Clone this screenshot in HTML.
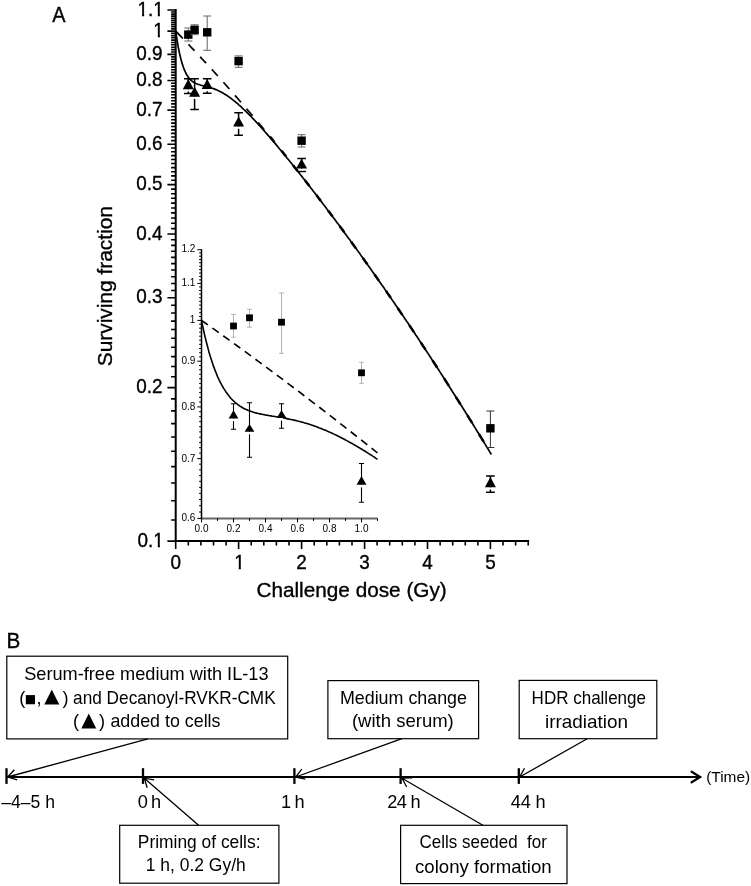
<!DOCTYPE html>
<html><head><meta charset="utf-8"><title>Figure</title>
<style>
html,body{margin:0;padding:0;background:#fff;}
svg{display:block;font-family:"Liberation Sans",sans-serif;fill:#000;filter:grayscale(1);}
text{white-space:pre}
.ax{stroke:#000;stroke-width:2;fill:none;stroke-linecap:butt}
.tk{stroke:#000;stroke-width:1.6;fill:none}
.cv{stroke:#000;stroke-width:1.7;fill:none;stroke-linejoin:round}
.ds{stroke:#000;stroke-width:1.7;fill:none}
.eg{stroke:#666;stroke-width:1;fill:none}
.eb{stroke:#000;stroke-width:1.5;fill:none}
.iax{stroke:#555;stroke-width:1;fill:none}
.bx{stroke:#000;stroke-width:1.2;fill:#fff}
.ar{stroke:#000;stroke-width:1.3;fill:none}
.tl{stroke:#000;stroke-width:2;fill:none}
.b{font-size:18.2px}
.m{stroke:#000;stroke-width:.35px}
</style></head><body>
<svg width="751" height="886" viewBox="0 0 751 886">
<rect width="751" height="886" fill="#fff"/>

<text class="m" transform="translate(52.3,22) scale(.93,1)" font-size="21.4">A</text>
<text class="m" transform="translate(6.5,647.7) scale(.92,1)" font-size="22.5">B</text>
<path class="ax" d="M175.7,9.0 V541.1 H529.2"/>
<path class="tk" d="M167.4,541.1 H175.7 M171.1,520.0 H175.7 M171.1,500.7 H175.7 M171.1,483.0 H175.7 M171.1,466.6 H175.7 M171.1,451.3 H175.7 M171.1,437.0 H175.7 M171.1,423.6 H175.7 M171.1,410.9 H175.7 M171.1,398.9 H175.7 M167.4,387.6 H175.7 M171.1,376.8 H175.7 M171.1,366.5 H175.7 M171.1,356.6 H175.7 M171.1,347.2 H175.7 M171.1,338.2 H175.7 M171.1,329.5 H175.7 M171.1,321.1 H175.7 M171.1,313.0 H175.7 M171.1,305.3 H175.7 M167.4,297.8 H175.7 M171.1,290.5 H175.7 M171.1,283.5 H175.7 M171.1,276.7 H175.7 M171.1,270.0 H175.7 M171.1,263.6 H175.7 M171.1,257.4 H175.7 M171.1,251.3 H175.7 M171.1,245.4 H175.7 M171.1,239.7 H175.7 M167.4,234.0 H175.7 M171.1,228.6 H175.7 M171.1,223.2 H175.7 M171.1,218.0 H175.7 M171.1,212.9 H175.7 M171.1,208.0 H175.7 M171.1,203.1 H175.7 M171.1,198.3 H175.7 M171.1,193.7 H175.7 M171.1,189.1 H175.7 M167.4,184.6 H175.7 M171.1,180.2 H175.7 M171.1,175.9 H175.7 M171.1,171.7 H175.7 M171.1,167.6 H175.7 M171.1,163.5 H175.7 M171.1,159.5 H175.7 M171.1,155.6 H175.7 M171.1,151.8 H175.7 M171.1,148.0 H175.7 M167.4,144.2 H175.7 M171.1,140.6 H175.7 M171.1,137.0 H175.7 M171.1,133.4 H175.7 M171.1,129.9 H175.7 M171.1,126.5 H175.7 M171.1,123.1 H175.7 M171.1,119.8 H175.7 M171.1,116.5 H175.7 M171.1,113.3 H175.7 M167.4,110.1 H175.7 M171.1,107.0 H175.7 M171.1,103.9 H175.7 M171.1,100.8 H175.7 M171.1,97.8 H175.7 M171.1,94.8 H175.7 M171.1,91.9 H175.7 M171.1,89.0 H175.7 M171.1,86.1 H175.7 M171.1,83.3 H175.7 M167.4,80.5 H175.7 M171.1,77.8 H175.7 M171.1,75.1 H175.7 M171.1,72.4 H175.7 M171.1,69.7 H175.7 M171.1,67.1 H175.7 M171.1,64.5 H175.7 M171.1,61.9 H175.7 M171.1,59.4 H175.7 M171.1,56.9 H175.7 M167.4,54.4 H175.7 M171.1,52.0 H175.7 M171.1,49.6 H175.7 M171.1,47.2 H175.7 M171.1,44.8 H175.7 M171.1,42.5 H175.7 M171.1,40.1 H175.7 M171.1,37.8 H175.7 M171.1,35.6 H175.7 M171.1,33.3 H175.7 M167.4,31.1 H175.7 M171.1,28.9 H175.7 M171.1,26.7 H175.7 M171.1,24.6 H175.7 M171.1,22.4 H175.7 M171.1,20.3 H175.7 M171.1,18.2 H175.7 M171.1,16.1 H175.7 M171.1,14.1 H175.7 M171.1,12.0 H175.7 M167.4,10.0 H175.7"/>
<path class="tk" d="M175.7,541.1 V549.1 M188.3,541.1 V545.6 M200.9,541.1 V545.6 M213.5,541.1 V545.6 M226.1,541.1 V545.6 M238.6,541.1 V549.1 M251.2,541.1 V545.6 M263.8,541.1 V545.6 M276.4,541.1 V545.6 M289.0,541.1 V545.6 M301.6,541.1 V549.1 M314.2,541.1 V545.6 M326.8,541.1 V545.6 M339.4,541.1 V545.6 M352.0,541.1 V545.6 M364.6,541.1 V549.1 M377.1,541.1 V545.6 M389.7,541.1 V545.6 M402.3,541.1 V545.6 M414.9,541.1 V545.6 M427.5,541.1 V549.1 M440.1,541.1 V545.6 M452.7,541.1 V545.6 M465.3,541.1 V545.6 M477.9,541.1 V545.6 M490.4,541.1 V549.1 M503.0,541.1 V545.6 M515.6,541.1 V545.6 M528.2,541.1 V545.6"/>
<text class="m" transform="translate(163.8,15.6) scale(.955,1)" font-size="19.8" text-anchor="end">1.1</text>
<text class="m" transform="translate(163.8,36.7) scale(.955,1)" font-size="19.8" text-anchor="end">1</text>
<text class="m" transform="translate(162.6,60.0) scale(.955,1)" font-size="19.8" text-anchor="end">0.9</text>
<text class="m" transform="translate(162.6,86.1) scale(.955,1)" font-size="19.8" text-anchor="end">0.8</text>
<text class="m" transform="translate(162.6,115.7) scale(.955,1)" font-size="19.8" text-anchor="end">0.7</text>
<text class="m" transform="translate(162.6,149.8) scale(.955,1)" font-size="19.8" text-anchor="end">0.6</text>
<text class="m" transform="translate(162.6,190.2) scale(.955,1)" font-size="19.8" text-anchor="end">0.5</text>
<text class="m" transform="translate(162.6,239.6) scale(.955,1)" font-size="19.8" text-anchor="end">0.4</text>
<text class="m" transform="translate(162.6,303.4) scale(.955,1)" font-size="19.8" text-anchor="end">0.3</text>
<text class="m" transform="translate(162.6,393.2) scale(.955,1)" font-size="19.8" text-anchor="end">0.2</text>
<text class="m" transform="translate(163.8,546.7) scale(.955,1)" font-size="19.8" text-anchor="end">0.1</text>
<text class="m" transform="translate(175.7,568.9) scale(.955,1)" font-size="19.8" text-anchor="middle">0</text>
<text class="m" transform="translate(239.4,568.9) scale(.955,1)" font-size="19.8" text-anchor="middle">1</text>
<text class="m" transform="translate(301.6,568.9) scale(.955,1)" font-size="19.8" text-anchor="middle">2</text>
<text class="m" transform="translate(364.6,568.9) scale(.955,1)" font-size="19.8" text-anchor="middle">3</text>
<text class="m" transform="translate(427.5,568.9) scale(.955,1)" font-size="19.8" text-anchor="middle">4</text>
<text class="m" transform="translate(490.4,568.9) scale(.955,1)" font-size="19.8" text-anchor="middle">5</text>
<rect x="153.42" y="13.61" width="4.38" height="3.48" fill="#fff"/>
<rect x="159.94" y="13.61" width="4.24" height="3.48" fill="#fff"/>
<rect x="137.65" y="13.61" width="4.38" height="3.48" fill="#fff"/>
<rect x="144.17" y="13.61" width="4.24" height="3.48" fill="#fff"/>
<rect x="153.42" y="34.72" width="4.38" height="3.48" fill="#fff"/>
<rect x="159.94" y="34.72" width="4.24" height="3.48" fill="#fff"/>
<rect x="153.42" y="544.72" width="4.38" height="3.48" fill="#fff"/>
<rect x="159.94" y="544.72" width="4.24" height="3.48" fill="#fff"/>
<rect x="234.33" y="566.92" width="4.38" height="3.48" fill="#fff"/>
<rect x="240.85" y="566.92" width="4.24" height="3.48" fill="#fff"/>
<text class="m" x="256.4" y="597.1" font-size="20.8" textLength="190.4" lengthAdjust="spacingAndGlyphs">Challenge dose (Gy)</text>
<text class="m" transform="translate(112.4,366.3) rotate(-90)" font-size="20.6" textLength="160.2" lengthAdjust="spacingAndGlyphs">Surviving fraction</text>
<path class="ds" d="M175.7,31.1 L177.5,32.9 L179.3,34.8 L181.1,36.7 L182.9,38.5 M188.5,44.4 L190.0,46.0 L191.5,47.6 L193.0,49.1 L194.5,50.7 M200.1,56.7 L201.6,58.4 L203.1,60.0 L204.6,61.6 L206.1,63.2 M211.8,69.4 L213.3,71.0 L214.8,72.7 L216.3,74.3 L217.8,76.0 M223.4,82.2 L224.9,83.9 L226.4,85.6 L227.9,87.3 L229.4,89.0 M235.0,95.4 L236.5,97.1 L238.0,98.8 L239.5,100.6 L241.0,102.3 M246.6,108.8 L248.1,110.6 L249.6,112.3 L251.1,114.1 L252.6,115.8 M258.2,122.5 L259.7,124.3 L261.2,126.1 L262.7,127.9 L264.2,129.7"/>
<path class="ds" style="stroke-width:2.5" d="M269.9,136.5 L271.0,137.9 L272.2,139.3 L273.3,140.7 L274.5,142.1 M281.5,150.7 L282.6,152.1 L283.8,153.6 L284.9,155.0 L286.1,156.4 M293.1,165.2 L294.2,166.7 L295.4,168.1 L296.5,169.6 L297.7,171.0 M304.7,180.0 L305.9,181.5 L307.0,183.0 L308.2,184.4 L309.3,185.9 M316.3,195.0 L317.5,196.5 L318.6,198.1 L319.8,199.6 L320.9,201.1 M328.0,210.4 L329.1,211.9 L330.3,213.4 L331.4,215.0 L332.6,216.5 M339.6,226.0 L340.7,227.5 L341.9,229.1 L343.0,230.6 L344.2,232.2 M351.2,241.8 L352.3,243.4 L353.5,245.0 L354.6,246.6 L355.8,248.2 M362.8,258.0 L364.0,259.6 L365.1,261.2 L366.3,262.8 L367.4,264.4 M374.4,274.4 L375.6,276.0 L376.7,277.6 L377.9,279.3 L379.0,280.9 M386.1,291.0 L387.2,292.7 L388.4,294.4 L389.5,296.0 L390.7,297.7 M397.7,308.0 L398.8,309.7 L400.0,311.4 L401.1,313.1 L402.3,314.8 M409.3,325.2 L410.4,326.9 L411.6,328.6 L412.8,330.4 L413.9,332.1 M420.9,342.7 L422.1,344.4 L423.2,346.2 L424.4,347.9 L425.5,349.7 M432.5,360.4 L433.7,362.2 L434.8,364.0 L436.0,365.8 L437.1,367.5 M444.2,378.5 L445.3,380.3 L446.5,382.1 L447.6,383.9 L448.8,385.7 M455.8,396.8 L456.9,398.6 L458.1,400.4 L459.2,402.3 L460.4,404.1 M467.4,415.3 L468.5,417.2 L469.7,419.1 L470.9,420.9 L472.0,422.8 M479.0,434.2 L480.2,436.1 L481.3,437.9 L482.5,439.8 L483.6,441.7"/>
<path class="cv" d="M175.7,31.1 L177.0,39.6 L178.2,47.0 L179.5,53.2 L180.8,58.6 L182.0,63.1 L183.3,67.0 L184.5,70.2 L185.8,73.0 L187.1,75.3 L188.3,77.2 L189.6,78.8 L190.9,80.1 L192.1,81.2 L193.4,82.1 L194.6,82.8 L195.9,83.5 L197.2,84.0 L198.4,84.4 L199.7,84.8 L201.0,85.2 L202.2,85.5 L203.5,85.8 L204.7,86.1 L206.0,86.4 L207.3,86.7 L208.5,87.0 L209.8,87.4 L211.1,87.8 L212.3,88.2 L213.6,88.6 L214.8,89.1 L216.1,89.6 L217.4,90.2 L218.6,90.7 L219.9,91.4 L221.2,92.0 L222.4,92.7 L223.7,93.5 L224.9,94.2 L226.2,95.0 L227.5,95.9 L228.7,96.7 L230.0,97.6 L231.3,98.6 L232.5,99.6 L233.8,100.6 L235.1,101.6 L236.3,102.6 L237.6,103.7 L238.8,104.8 L240.1,105.9 L241.4,107.1 L242.6,108.3 L243.9,109.5 L245.2,110.7 L246.4,111.9 L247.7,113.2 L248.9,114.4 L250.2,115.7 L251.5,117.0 L252.7,118.3 L254.0,119.7 L255.3,121.0 L256.5,122.4 L257.8,123.7 L259.0,125.1 L260.3,126.5 L261.6,127.9 L262.8,129.3 L264.1,130.7 L265.4,132.2 L266.6,133.6 L267.9,135.1 L269.1,136.5 L270.4,138.0 L271.7,139.5 L272.9,140.9 L274.2,142.4 L275.5,143.9 L276.7,145.4 L278.0,146.9 L279.2,148.5 L280.5,150.0 L281.8,151.5 L283.0,153.0 L284.3,154.6 L285.6,156.1 L286.8,157.7 L288.1,159.2 L289.3,160.8 L290.6,162.3 L291.9,163.9 L293.1,165.5 L294.4,167.1 L295.7,168.6 L296.9,170.2 L298.2,171.8 L299.5,173.4 L300.7,175.0 L302.0,176.6 L303.2,178.2 L304.5,179.8 L305.8,181.4 L307.0,183.1 L308.3,184.7 L309.6,186.3 L310.8,187.9 L312.1,189.6 L313.3,191.2 L314.6,192.8 L315.9,194.5 L317.1,196.1 L318.4,197.8 L319.7,199.4 L320.9,201.1 L322.2,202.7 L323.4,204.4 L324.7,206.1 L326.0,207.8 L327.2,209.4 L328.5,211.1 L329.8,212.8 L331.0,214.5 L332.3,216.2 L333.5,217.8 L334.8,219.5 L336.1,221.2 L337.3,222.9 L338.6,224.6 L339.9,226.3 L341.1,228.1 L342.4,229.8 L343.6,231.5 L344.9,233.2 L346.2,234.9 L347.4,236.7 L348.7,238.4 L350.0,240.1 L351.2,241.9 L352.5,243.6 L353.8,245.3 L355.0,247.1 L356.3,248.8 L357.5,250.6 L358.8,252.3 L360.1,254.1 L361.3,255.9 L362.6,257.6 L363.9,259.4 L365.1,261.2 L366.4,262.9 L367.6,264.7 L368.9,266.5 L370.2,268.3 L371.4,270.1 L372.7,271.9 L374.0,273.7 L375.2,275.5 L376.5,277.3 L377.7,279.1 L379.0,280.9 L380.3,282.7 L381.5,284.5 L382.8,286.3 L384.1,288.1 L385.3,290.0 L386.6,291.8 L387.8,293.6 L389.1,295.5 L390.4,297.3 L391.6,299.1 L392.9,301.0 L394.2,302.8 L395.4,304.7 L396.7,306.5 L397.9,308.4 L399.2,310.2 L400.5,312.1 L401.7,314.0 L403.0,315.8 L404.3,317.7 L405.5,319.6 L406.8,321.4 L408.1,323.3 L409.3,325.2 L410.6,327.1 L411.8,329.0 L413.1,330.9 L414.4,332.8 L415.6,334.7 L416.9,336.6 L418.2,338.5 L419.4,340.4 L420.7,342.3 L421.9,344.2 L423.2,346.2 L424.5,348.1 L425.7,350.0 L427.0,351.9 L428.3,353.9 L429.5,355.8 L430.8,357.7 L432.0,359.7 L433.3,361.6 L434.6,363.6 L435.8,365.5 L437.1,367.5 L438.4,369.4 L439.6,371.4 L440.9,373.4 L442.1,375.3 L443.4,377.3 L444.7,379.3 L445.9,381.2 L447.2,383.2 L448.5,385.2 L449.7,387.2 L451.0,389.2 L452.2,391.2 L453.5,393.2 L454.8,395.2 L456.0,397.2 L457.3,399.2 L458.6,401.2 L459.8,403.2 L461.1,405.2 L462.4,407.2 L463.6,409.3 L464.9,411.3 L466.1,413.3 L467.4,415.3 L468.7,417.4 L469.9,419.4 L471.2,421.5 L472.5,423.5 L473.7,425.5 L475.0,427.6 L476.2,429.7 L477.5,431.7 L478.8,433.8 L480.0,435.8 L481.3,437.9 L482.6,440.0 L483.8,442.0 L485.1,444.1 L486.3,446.2 L487.6,448.3 L488.9,450.4 L490.1,452.5 L491.4,454.5"/>
<path class="eg" d="M188.3,28.0 V41.0 M184.3,28.0 H192.3 M184.3,41.0 H192.3"/>
<rect x="184.1" y="30.4" width="8.4" height="8.4" fill="#000"/>
<path class="eg" d="M194.6,24.8 V34.7 M190.6,24.8 H198.6 M190.6,34.7 H198.6"/>
<rect x="190.4" y="25.6" width="8.4" height="8.4" fill="#000"/>
<path class="eg" d="M207.2,16.0 V50.3 M203.2,16.0 H211.2 M203.2,50.3 H211.2"/>
<rect x="203.0" y="28.1" width="8.4" height="8.4" fill="#000"/>
<path class="eg" d="M238.6,55.9 V67.3 M234.6,55.9 H242.6 M234.6,67.3 H242.6"/>
<rect x="234.4" y="56.9" width="8.4" height="8.4" fill="#000"/>
<path class="eg" d="M301.6,134.7 V147.0 M297.6,134.7 H305.6 M297.6,147.0 H305.6"/>
<rect x="297.4" y="136.5" width="8.4" height="8.4" fill="#000"/>
<path class="eg" style="stroke:#333" d="M490.4,411.0 V447.5 M486.4,411.0 H494.4 M486.4,447.5 H494.4"/>
<rect x="486.2" y="424.1" width="8.4" height="8.4" fill="#000"/>
<path class="eb" d="M188.3,78.8 V93.5 M184.0,78.8 H192.6 M184.0,93.5 H192.6"/>
<rect x="186.3" y="89.3" width="4" height="2.2" fill="#fff"/>
<path d="M188.3,79.1 L193.8,89.3 L182.8,89.3 Z" fill="#000"/>
<path class="eb" d="M194.6,78.8 V109.6 M190.3,78.8 H198.9 M190.3,109.6 H198.9"/>
<rect x="192.6" y="96.7" width="4" height="2.2" fill="#fff"/>
<path d="M194.6,86.7 L200.1,96.7 L189.1,96.7 Z" fill="#000"/>
<path class="eb" d="M207.2,78.8 V93.2 M202.9,78.8 H211.5 M202.9,93.2 H211.5"/>
<rect x="205.2" y="89.1" width="4" height="2.2" fill="#fff"/>
<path d="M207.2,79.1 L212.7,89.1 L201.7,89.1 Z" fill="#000"/>
<path class="eb" d="M238.6,112.7 V135.3 M234.3,112.7 H242.9 M234.3,135.3 H242.9"/>
<rect x="236.6" y="126.6" width="4" height="2.2" fill="#fff"/>
<path d="M238.6,116.5 L244.1,126.6 L233.1,126.6 Z" fill="#000"/>
<path class="eb" d="M301.6,158.5 V171.6 M297.3,158.5 H305.9 M297.3,171.6 H305.9"/>
<rect x="299.6" y="168.5" width="4" height="2.2" fill="#fff"/>
<path d="M301.6,158.7 L307.1,168.5 L296.1,168.5 Z" fill="#000"/>
<path class="eb" d="M490.4,475.9 V492.2 M486.1,475.9 H494.8 M486.1,492.2 H494.8"/>
<rect x="488.4" y="487.3" width="4" height="2.2" fill="#fff"/>
<path d="M490.4,477.0 L495.9,487.3 L484.9,487.3 Z" fill="#000"/>
<path d="M200.8,518.5 H377.5" stroke="#666" stroke-width="1.9" fill="none"/>
<path d="M201.5,249.2 V519.3" stroke="#000" stroke-width="1.5" fill="none"/>
<path d="M197.3,518.4 H201.5 M199.1,512.0 H201.5 M199.1,505.7 H201.5 M199.1,499.5 H201.5 M199.1,493.4 H201.5 M199.1,487.4 H201.5 M199.1,481.4 H201.5 M199.1,475.6 H201.5 M199.1,469.9 H201.5 M199.1,464.2 H201.5 M197.3,458.6 H201.5 M199.1,453.1 H201.5 M199.1,447.7 H201.5 M199.1,442.4 H201.5 M199.1,437.1 H201.5 M199.1,431.9 H201.5 M199.1,426.8 H201.5 M199.1,421.7 H201.5 M199.1,416.7 H201.5 M199.1,411.7 H201.5 M197.3,406.9 H201.5 M199.1,402.0 H201.5 M199.1,397.3 H201.5 M199.1,392.6 H201.5 M199.1,387.9 H201.5 M199.1,383.4 H201.5 M199.1,378.8 H201.5 M199.1,374.3 H201.5 M199.1,369.9 H201.5 M199.1,365.5 H201.5 M197.3,361.2 H201.5 M199.1,356.9 H201.5 M199.1,352.7 H201.5 M199.1,348.5 H201.5 M199.1,344.3 H201.5 M199.1,340.2 H201.5 M199.1,336.2 H201.5 M199.1,332.2 H201.5 M199.1,328.2 H201.5 M199.1,324.2 H201.5 M197.3,320.4 H201.5 M199.1,316.5 H201.5 M199.1,312.7 H201.5 M199.1,308.9 H201.5 M199.1,305.1 H201.5 M199.1,301.4 H201.5 M199.1,297.8 H201.5 M199.1,294.1 H201.5 M199.1,290.5 H201.5 M199.1,286.9 H201.5 M197.3,283.4 H201.5 M199.1,279.9 H201.5 M199.1,276.4 H201.5 M199.1,273.0 H201.5 M199.1,269.6 H201.5 M199.1,266.2 H201.5 M199.1,262.8 H201.5 M199.1,259.5 H201.5 M199.1,256.2 H201.5 M199.1,252.9 H201.5 M197.3,249.7 H201.5 M201.5,518.4 V522.4 M217.5,518.4 V520.9 M233.5,518.4 V522.4 M249.5,518.4 V520.9 M265.5,518.4 V522.4 M281.5,518.4 V520.9 M297.5,518.4 V522.4 M313.5,518.4 V520.9 M329.5,518.4 V522.4 M345.5,518.4 V520.9 M361.5,518.4 V522.4 M377.5,518.4 V520.9" stroke="#000" stroke-width="1" fill="none"/>
<text x="195.4" y="251.9" font-size="10" text-anchor="end">1.2</text>
<text x="195.4" y="286.4" font-size="10" text-anchor="end">1.1</text>
<text x="195.4" y="323.4" font-size="10" text-anchor="end">1</text>
<text x="195.4" y="364.2" font-size="10" text-anchor="end">0.9</text>
<text x="195.4" y="409.9" font-size="10" text-anchor="end">0.8</text>
<text x="195.4" y="461.6" font-size="10" text-anchor="end">0.7</text>
<text x="195.4" y="521.4" font-size="10" text-anchor="end">0.6</text>
<text x="201.5" y="531.8" font-size="10" text-anchor="middle">0.0</text>
<text x="233.5" y="531.8" font-size="10" text-anchor="middle">0.2</text>
<text x="265.5" y="531.8" font-size="10" text-anchor="middle">0.4</text>
<text x="297.5" y="531.8" font-size="10" text-anchor="middle">0.6</text>
<text x="329.5" y="531.8" font-size="10" text-anchor="middle">0.8</text>
<text x="361.5" y="531.8" font-size="10" text-anchor="middle">1.0</text>
<path class="ds" style="stroke-width:1.6;stroke-dasharray:7.8 5.5" d="M201.5,320.4 L205.9,323.5 L210.3,326.6 L214.7,329.7 L219.1,332.9 L223.5,336.0 L227.9,339.2 L232.3,342.3 L236.7,345.5 L241.1,348.7 L245.5,351.9 L249.9,355.1 L254.3,358.4 L258.7,361.6 L263.1,364.9 L267.5,368.1 L271.9,371.4 L276.3,374.7 L280.7,377.9 L285.1,381.2 L289.5,384.6 L293.9,387.9 L298.3,391.2 L302.7,394.5 L307.1,397.9 L311.5,401.3 L315.9,404.6 L320.3,408.0 L324.7,411.4 L329.1,414.8 L333.5,418.2 L337.9,421.7 L342.3,425.1 L346.7,428.5 L351.1,432.0 L355.5,435.5 L359.9,438.9 L364.3,442.4 L368.7,445.9 L373.1,449.4 L377.5,453.0"/>
<path class="cv" style="stroke-width:1.6" d="M201.5,320.4 L203.0,327.5 L204.4,334.1 L205.9,340.3 L207.4,346.0 L208.8,351.4 L210.3,356.4 L211.8,361.1 L213.2,365.4 L214.7,369.4 L216.2,373.1 L217.6,376.6 L219.1,379.8 L220.6,382.8 L222.0,385.5 L223.5,388.1 L225.0,390.4 L226.4,392.6 L227.9,394.6 L229.4,396.5 L230.8,398.2 L232.3,399.7 L233.8,401.2 L235.2,402.5 L236.7,403.7 L238.2,404.8 L239.6,405.9 L241.1,406.8 L242.6,407.7 L244.0,408.5 L245.5,409.2 L247.0,409.8 L248.4,410.5 L249.9,411.0 L251.4,411.5 L252.8,412.0 L254.3,412.4 L255.8,412.9 L257.2,413.2 L258.7,413.6 L260.2,413.9 L261.6,414.2 L263.1,414.5 L264.6,414.8 L266.0,415.1 L267.5,415.3 L269.0,415.6 L270.4,415.8 L271.9,416.1 L273.4,416.3 L274.8,416.5 L276.3,416.8 L277.8,417.0 L279.2,417.3 L280.7,417.5 L282.2,417.8 L283.6,418.0 L285.1,418.3 L286.6,418.6 L288.0,418.9 L289.5,419.2 L291.0,419.5 L292.4,419.8 L293.9,420.1 L295.4,420.4 L296.8,420.8 L298.3,421.2 L299.8,421.5 L301.2,421.9 L302.7,422.3 L304.2,422.8 L305.6,423.2 L307.1,423.6 L308.6,424.1 L310.0,424.6 L311.5,425.0 L313.0,425.5 L314.4,426.0 L315.9,426.6 L317.4,427.1 L318.8,427.7 L320.3,428.2 L321.8,428.8 L323.2,429.4 L324.7,430.0 L326.2,430.6 L327.6,431.3 L329.1,431.9 L330.6,432.6 L332.0,433.2 L333.5,433.9 L335.0,434.6 L336.4,435.3 L337.9,436.0 L339.4,436.8 L340.8,437.5 L342.3,438.3 L343.8,439.0 L345.2,439.8 L346.7,440.6 L348.2,441.4 L349.6,442.2 L351.1,443.0 L352.6,443.8 L354.0,444.7 L355.5,445.5 L357.0,446.4 L358.4,447.2 L359.9,448.1 L361.4,449.0 L362.8,449.9 L364.3,450.8 L365.8,451.7 L367.2,452.6 L368.7,453.6 L370.2,454.5 L371.6,455.4 L373.1,456.4 L374.6,457.3 L376.0,458.3 L377.5,459.3"/>
<path class="eg" style="stroke:#aaa;stroke-width:.9" d="M233.5,314.4 V337.2 M231.1,314.4 H235.9 M231.1,337.2 H235.9"/>
<rect x="230.1" y="322.6" width="6.8" height="6.8" fill="#000"/>
<path class="eg" style="stroke:#aaa;stroke-width:.9" d="M249.5,309.3 V327.2 M247.1,309.3 H251.9 M247.1,327.2 H251.9"/>
<rect x="246.1" y="314.4" width="6.8" height="6.8" fill="#000"/>
<path class="eg" style="stroke:#aaa;stroke-width:.9" d="M281.5,293.0 V353.4 M279.1,293.0 H283.9 M279.1,353.4 H283.9"/>
<rect x="278.1" y="318.8" width="6.8" height="6.8" fill="#000"/>
<path class="eg" style="stroke:#aaa;stroke-width:.9" d="M361.5,362.3 V383.3 M359.1,362.3 H363.9 M359.1,383.3 H363.9"/>
<rect x="358.1" y="369.4" width="6.8" height="6.8" fill="#000"/>
<path class="eb" style="stroke-width:1.1" d="M233.5,403.8 V429.2 M230.9,403.8 H236.1 M230.9,429.2 H236.1"/>
<rect x="232.0" y="418.5" width="3" height="2.6" fill="#fff"/>
<path d="M233.5,410.2 L238.4,418.5 L228.6,418.5 Z" fill="#000"/>
<path class="eb" style="stroke-width:1.1" d="M249.5,402.8 V457.3 M246.9,402.8 H252.1 M246.9,457.3 H252.1"/>
<rect x="248.0" y="431.7" width="3" height="2.6" fill="#fff"/>
<path d="M249.5,423.9 L254.4,431.7 L244.6,431.7 Z" fill="#000"/>
<path class="eb" style="stroke-width:1.1" d="M281.5,403.8 V428.2 M278.9,403.8 H284.1 M278.9,428.2 H284.1"/>
<rect x="280.0" y="418.1" width="3" height="2.6" fill="#fff"/>
<path d="M281.5,410.2 L286.4,418.1 L276.6,418.1 Z" fill="#000"/>
<path class="eb" style="stroke-width:1.1" d="M361.5,463.5 V502.3 M358.9,463.5 H364.1 M358.9,502.3 H364.1"/>
<rect x="360.0" y="484.8" width="3" height="2.6" fill="#fff"/>
<path d="M361.5,476.0 L366.4,484.8 L356.6,484.8 Z" fill="#000"/>
<path class="tl" style="stroke-width:2.2" d="M6.5,777.0 H699.5"/>
<path class="tl" style="stroke-width:2.2;stroke-linecap:round;stroke-linejoin:miter" d="M691.6,771.7 L700.2,777.0 L691.6,782.3"/>
<path class="tl" style="stroke-width:2.3" d="M6.5,768.2 V783.9"/>
<path class="tl" style="stroke-width:2.3" d="M143.0,768.2 V783.9"/>
<path class="tl" style="stroke-width:2.3" d="M294.4,768.2 V783.9"/>
<path class="tl" style="stroke-width:2.3" d="M400.6,768.2 V783.9"/>
<path class="tl" style="stroke-width:2.3" d="M518.8,768.2 V783.9"/>
<rect class="bx" x="6.8" y="656.2" width="280.9" height="82.7"/>
<rect class="bx" x="327.9" y="680.6" width="150.7" height="58.1"/>
<rect class="bx" x="519.2" y="680.4" width="137.6" height="58.3"/>
<rect class="bx" x="119.7" y="825.3" width="159.2" height="57.9"/>
<rect class="bx" x="400.6" y="825.3" width="166.4" height="58.3"/>
<path class="ar" d="M147.8,738.9 L7.6,777.0 M14.4,769.7 L7.6,777.0 L17.2,779.9"/>
<path class="ar" d="M198.6,825.3 L144.3,778.2 M154.2,779.8 L144.3,778.2 L147.2,787.8"/>
<path class="ar" d="M401.9,738.7 L295.6,777.0 M301.8,769.1 L295.6,777.0 L305.4,779.1"/>
<path class="ar" d="M587.2,738.7 L519.7,777.0 M524.5,768.2 L519.7,777.0 L529.7,777.4"/>
<path class="ar" d="M483.3,825.5 L402.0,778.2 M412.0,777.9 L402.0,778.2 L406.7,787.0"/>
<text class="b" x="24.2" y="680.1" textLength="244.3" lengthAdjust="spacingAndGlyphs">Serum-free medium with IL-13</text>
<text class="b" x="19.3" y="703.7">(</text>
<text x="24.8" y="702.6" font-size="12" style="font-family:&quot;DejaVu Sans&quot;,sans-serif">■</text>
<text class="b" x="36.6" y="703.7">,</text>
<text x="44.2" y="702" font-size="19.6" style="font-family:&quot;DejaVu Sans&quot;,sans-serif">▲</text>
<text class="b" x="62.6" y="703.7">)</text>
<text class="b" x="73.1" y="703.7" textLength="202.6" lengthAdjust="spacingAndGlyphs">and Decanoyl-RVKR-CMK</text>
<text class="b" x="73" y="726.9">(</text>
<text x="81.2" y="725.8" font-size="19.6" style="font-family:&quot;DejaVu Sans&quot;,sans-serif">▲</text>
<text class="b" x="99" y="726.9">)</text>
<text class="b" x="110.4" y="726.9" textLength="110.1" lengthAdjust="spacingAndGlyphs">added to cells</text>
<text class="b" x="339.9" y="704.0" textLength="127.1" lengthAdjust="spacingAndGlyphs">Medium change</text>
<text class="b" x="351.9" y="727.1" textLength="101.9" lengthAdjust="spacingAndGlyphs">(with serum)</text>
<text class="b" x="531.6" y="703.7" textLength="114.4" lengthAdjust="spacingAndGlyphs">HDR challenge</text>
<text class="b" x="545.0" y="727.5" textLength="83.0" lengthAdjust="spacingAndGlyphs">irradiation</text>
<text class="b" x="137.8" y="848.0" textLength="122.7" lengthAdjust="spacingAndGlyphs">Priming of cells:</text>
<text class="b" x="145.8" y="870.8" textLength="99.9" lengthAdjust="spacingAndGlyphs">1 h, 0.2 Gy/h</text>
<text class="b" x="419.6" y="848.4" textLength="127.3" lengthAdjust="spacingAndGlyphs">Cells seeded  for</text>
<text class="b" x="415.0" y="872.9" textLength="136.6" lengthAdjust="spacingAndGlyphs">colony formation</text>
<text class="b" x="1.2" y="808.0" textLength="53.8" lengthAdjust="spacingAndGlyphs">–4–5 h</text>
<text class="b" x="137.8" y="808.0" textLength="23.2" lengthAdjust="spacing">0 h</text>
<text class="b" x="281.0" y="808.0" textLength="23.6" lengthAdjust="spacing">1 h</text>
<text class="b" x="387.3" y="808.0" textLength="33.4" lengthAdjust="spacing">24 h</text>
<text class="b" x="510.8" y="808.0" textLength="34.7" lengthAdjust="spacing">44 h</text>
<text x="706.2" y="781.5" font-size="14.2" textLength="44" lengthAdjust="spacingAndGlyphs">(Time)</text>
</svg></body></html>
